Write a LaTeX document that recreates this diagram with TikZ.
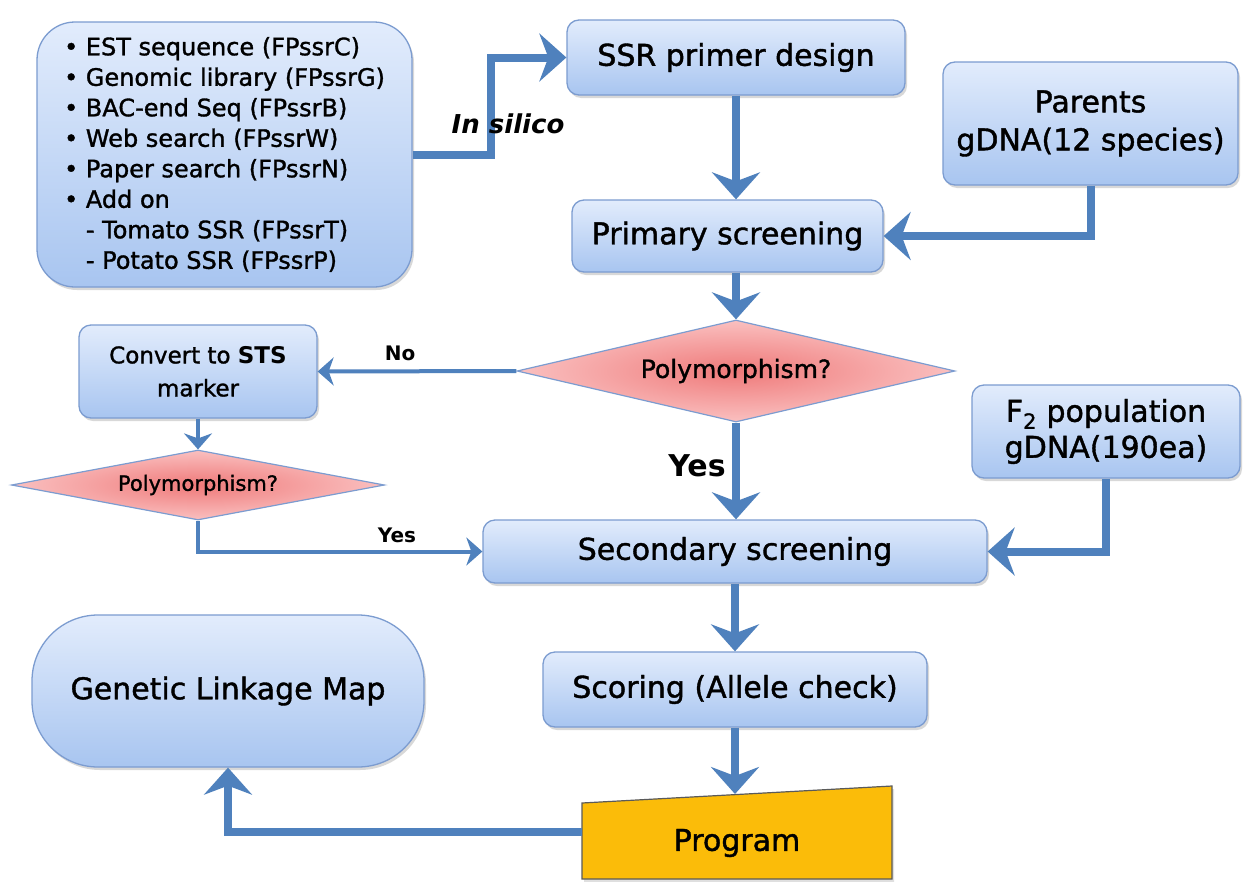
\documentclass[tikz,border=0pt]{standalone}
\usepackage{fontspec}
\setmainfont{DejaVu Sans}[UprightFeatures={FakeBold=1.3}]
\usetikzlibrary{shapes.geometric,arrows.meta,shadows}
\definecolor{boxtop}{HTML}{E2ECFC}
\definecolor{boxbot}{HTML}{A8C5F0}
\definecolor{boxline}{HTML}{7C9CD0}
\definecolor{arr}{HTML}{4F81BD}
\definecolor{dinner}{HTML}{EF7A7A}
\definecolor{douter}{HTML}{FAC0C0}
\definecolor{progfill}{HTML}{FBBC09}
\definecolor{progline}{HTML}{5A5A5A}
\begin{document}
\begin{tikzpicture}[x=1pt,y=-1pt,
  box/.style={draw=boxline, line width=1.3pt, top color=boxtop, bottom color=boxbot,
    rounded corners=12pt, inner sep=0pt, align=center,
    drop shadow={shadow xshift=2pt, shadow yshift=-3pt, opacity=0.3}},
  bigtxt/.style={font=\fontsize{30}{36}\selectfont},
  dia/.style={diamond, draw=boxline, line width=1.2pt, inner color=dinner, outer color=douter, inner sep=0pt},
  flow/.style={draw=arr, line width=8pt, -{Stealth[length=27pt,width=48pt,inset=9pt]}},
  thinflow/.style={draw=arr, line width=4pt, -{Stealth[length=16pt,width=28pt,inset=5pt]}},
  lab/.style={font=\bfseries\fontsize{20}{24}\selectfont}
]
\useasboundingbox[fill=white] (0,0) rectangle (1255,881);

% nodes
\node[box, rounded corners=38pt, minimum width=375pt, minimum height=265pt, align=left,
  font=\fontsize{24}{30.5}\selectfont] (src) at (224.5,154.5)
  {• EST sequence (FPssrC)\\
   • Genomic library (FPssrG)\\
   • BAC-end Seq (FPssrB)\\
   • Web search (FPssrW)\\
   • Paper search (FPssrN)\\
   • Add on\\
   \hphantom{• }- Tomato SSR (FPssrT)\\
   \hphantom{• }- Potato SSR (FPssrP)};

\node[box, bigtxt, minimum width=338pt, minimum height=75pt] (ssr) at (736,57.5) {SSR primer design};
\node[box, minimum width=295pt, minimum height=123pt, font=\fontsize{30}{38}\selectfont] (parents) at (1090.5,123.5) {Parents\\gDNA(12 species)};
\node[box, bigtxt, minimum width=311pt, minimum height=72pt] (primary) at (727.5,236) {Primary screening};
\node[dia, aspect=4.3, minimum width=438pt, minimum height=102pt, font=\fontsize{25}{30}\selectfont] (pdia) at (736,371) {Polymorphism?};
\node[box, minimum width=238pt, minimum height=93pt, font=\fontsize{23}{33}\selectfont] (conv) at (198,371.5) {Convert to \textbf{STS}\\marker};
\node[dia, aspect=5.3, minimum width=373pt, minimum height=70pt, font=\fontsize{21}{26}\selectfont] (sdia) at (198,485) {Polymorphism?};
\node[box, minimum width=268pt, minimum height=93pt, font=\fontsize{30}{36}\selectfont] (f2) at (1106,431.5) {F\textsubscript{2} population\\gDNA(190ea)};
\node[box, bigtxt, minimum width=504pt, minimum height=63pt] (sec) at (735,551.5) {Secondary screening};
\node[box, bigtxt, minimum width=384pt, minimum height=75pt] (score) at (735,689.5) {Scoring (Allele check)};
\node[box, bigtxt, rounded corners=66pt, minimum width=392pt, minimum height=152pt] (gen) at (228,691) {Genetic Linkage Map};

% program (manual input shape)
\filldraw[fill=progfill, draw=progline, line width=1.2pt,
  drop shadow={shadow xshift=2pt, shadow yshift=-3pt, opacity=0.25}]
  (582,803) -- (892,786) -- (892,879) -- (582,879) -- cycle;
\node[bigtxt, minimum width=310pt, minimum height=60pt, inner sep=0pt] (prog) at (737,843) {Program};
\coordinate (ptop) at (735,794);

% connectors
\draw[flow] (src.east) -- ++(78,0) |- (ssr.west);
\node[font=\bfseries\itshape\fontsize{26}{30}\selectfont] (insilico) at (508,124) {In silico};
\draw[flow] (ssr.south) -- (ssr.south |- primary.north);
\draw[flow] (parents.south) |- (primary.east);
\draw[flow] (pdia.north |- primary.south) -- (pdia.north);
\draw[thinflow] (pdia.west) -- (conv.east);
\node[lab] (no) at (400,353) {No};
\draw[thinflow] (conv.south) -- (sdia.north);
\draw[thinflow] (sdia.south) |- (sec.west);
\node[lab] (yes1) at (397,535) {Yes};
\draw[flow] (pdia.south) -- (pdia.south |- sec.north);
\node[font=\bfseries\fontsize{30}{36}\selectfont] (yes2) at (697,466) {Yes};
\draw[flow] (f2.south) |- (sec.east);
\draw[flow] (sec.south) -- (sec.south |- score.north);
\draw[flow] (score.south) -- (ptop);
\draw[flow] ([yshift=11pt]prog.west) -| (gen.south);
\end{tikzpicture}
\end{document}
